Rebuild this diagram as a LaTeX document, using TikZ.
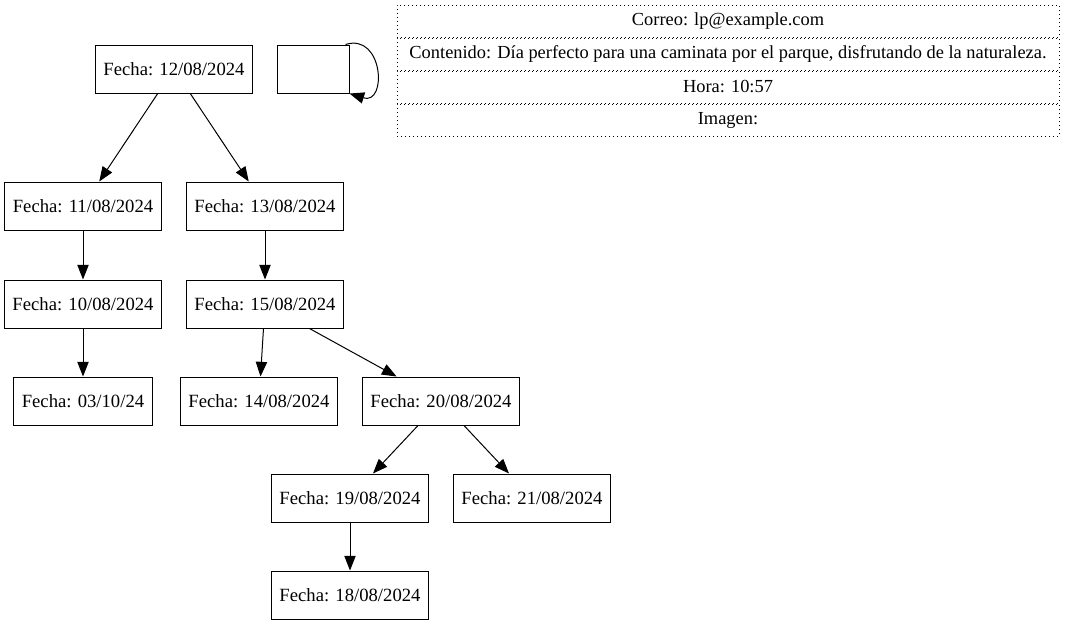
\documentclass[tikz,border=0pt]{standalone}
\usepackage{fontspec}
\setmainfont{Liberation Serif}
\usepackage{tikz}
\usetikzlibrary{positioning}
\usetikzlibrary{arrows.meta}
\tikzstyle{datebox}=[rectangle,draw,line width=0.75pt,font=\fontsize{14}{16}\selectfont,minimum height=36pt,inner xsep=6pt,inner ysep=0pt]
\tikzstyle{emptybox}=[rectangle,draw,line width=0.75pt,minimum width=54pt,minimum height=36pt]
\tikzstyle{recfield}=[rectangle,draw,line width=0.75pt,dash pattern=on 0.75pt off 2.25pt,font=\fontsize{13.8}{16}\selectfont,minimum width=496.5pt,minimum height=24pt,inner sep=0pt]
\tikzstyle{edge} = [draw,line width=0.75pt,-{Triangle[length=11pt,width=8.5pt]}]

\begin{document}
\begin{tikzpicture}[x=0.75pt,y=-0.75pt]
    \useasboundingbox (0,0) rectangle (1065,625);

    \foreach \pos/\name/\dd/\mm/\yy in {{(174,69)/n12/12/08/2024}, {(83,206)/n11/11/08/2024}, {(265,206)/n13/13/08/2024},
        {(83,304)/n10/10/08/2024}, {(265,304)/n15/15/08/2024}, {(83,401)/n03/03/10/24}, {(259,401)/n14/14/08/2024},
        {(441,401)/n20/20/08/2024}, {(350,498)/n19/19/08/2024}, {(532,498)/n21/21/08/2024}, {(350,595)/n18/18/08/2024}}
        \node[datebox] (\name) at \pos {Fecha: \dd/\mm/\yy};

    \node[emptybox] (blank) at (313,69) {};

    % registro
    \node[recfield] (correo) at (728,21) {Correo: lp@example.com};
    \node[recfield,below=0pt of correo] (contenido) {Contenido: Día perfecto para una caminata por el parque, disfrutando de la naturaleza.};
    \node[recfield,below=0pt of contenido] (hora) {Hora: 10:57};
    \node[recfield,below=0pt of hora] (imagen) {Imagen:};

    \foreach \source/\dest in {n12/n11, n12/n13, n11/n10, n10/n03, n13/n15, n15/n14, n15/n20, n20/n19, n20/n21, n19/n18}
        \path[edge] (\source) -- (\dest);

    \path[edge] ([xshift=-3pt]blank.north east) .. controls +(38,-12) and +(38,12) .. (blank.south east);

\end{tikzpicture}
\end{document}
